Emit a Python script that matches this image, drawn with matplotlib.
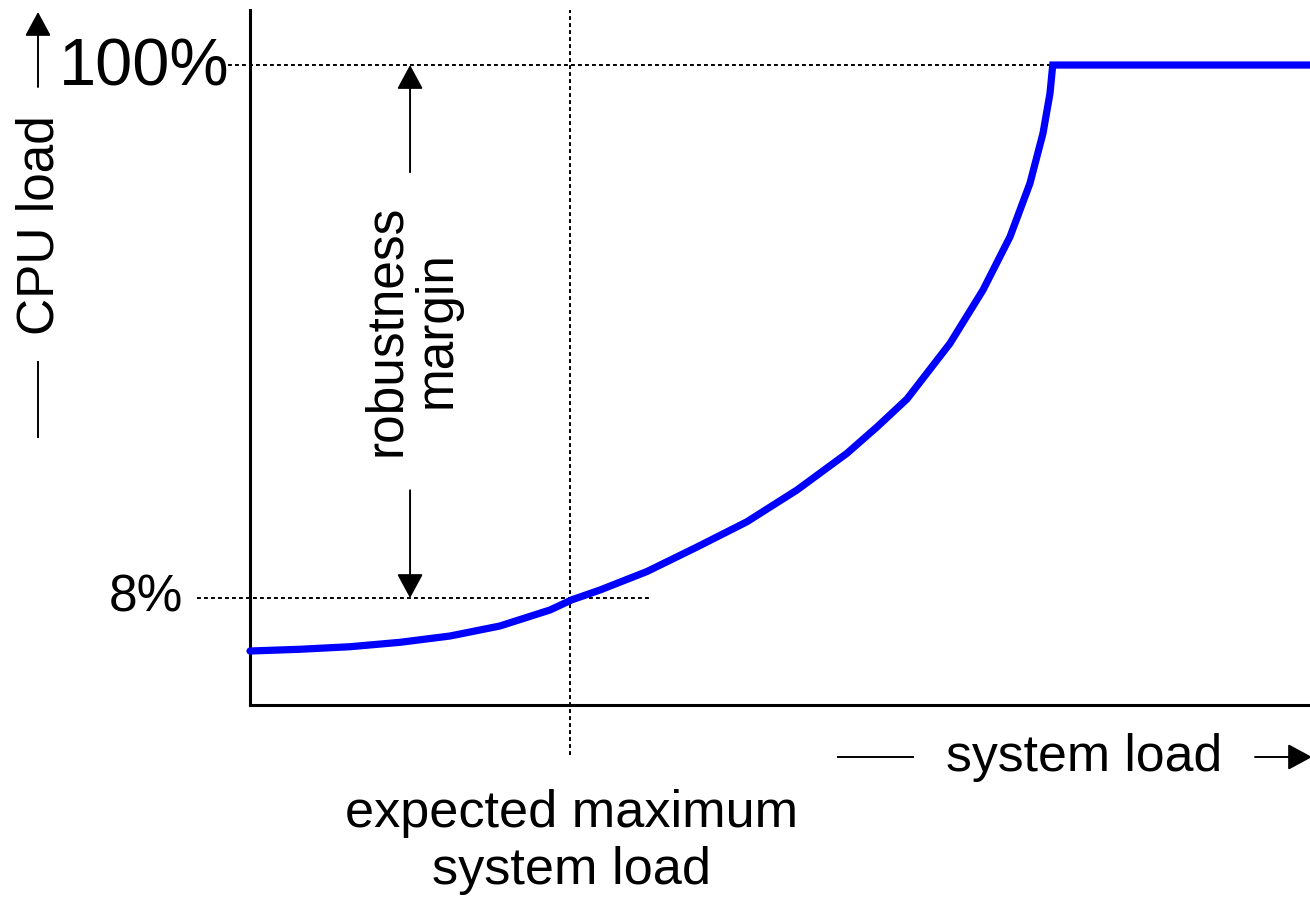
import matplotlib.pyplot as plt

# system load (arbitrary units, 0..100) vs CPU load (%)
load = [0, 4.72, 9.43, 14.15, 18.87, 23.58, 28.3, 30.38, 33.02, 37.45, 42.17, 46.89,
        51.6, 56.32, 59.15, 61.98, 66.04, 69.15, 71.7, 73.58, 74.81, 75.47, 75.73, 100]
cpu = [-1.15, -0.85, -0.41, 0.35, 1.44, 3.17, 5.93, 7.7, 9.38, 12.57, 16.8, 21.17,
       26.64, 32.98, 37.52, 42.35, 51.96, 61.16, 70.36, 79.58, 88.21, 95.11, 100, 100]

expected_load = 30.2
cpu_expected = 8
cpu_max = 100

plt.rcParams['font.family'] = ['Liberation Sans', 'DejaVu Sans']

W, H = 1310, 902
fig = plt.figure(figsize=(W / 100, H / 100), dpi=100)
ax = fig.add_axes([250 / W, 197 / H, 1060 / W, 695 / H])


def fp(px, py):
    # figure pixel (top-left origin) -> figure fraction
    return (px / W, 1 - py / H)


ax.plot(load, cpu, color='#0000ff', lw=5.2, solid_capstyle='round',
        solid_joinstyle='miter', zorder=5, clip_on=False)

dot = dict(color='k', lw=1.4, dashes=(2.0, 1.6), clip_on=False, zorder=3)
ax.plot([-2.1, load[-2]], [cpu_max, cpu_max], **dot)
ax.plot([-5, 37.7], [cpu_expected, cpu_expected], **dot)
ax.plot([expected_load, expected_load], [-19.1, 109.5], **dot)

ax.set_xlim(0, 100)
ax.set_ylim(-10.47, 109.5)
ax.set_xticks([])
ax.set_yticks([])
for s in ['top', 'right']:
    ax.spines[s].set_visible(False)
for s in ['left', 'bottom']:
    ax.spines[s].set_linewidth(2.2)
    ax.spines[s].set_capstyle('projecting')

arr = dict(arrowstyle='-|>,head_length=0.5,head_width=0.27', lw=1.4, color='k',
           mutation_scale=30, shrinkA=0, shrinkB=0)

# robustness margin arrows
ax.annotate('', xy=(15.1, cpu_max), xytext=(15.1, 81.5), arrowprops=arr,
            annotation_clip=False)
ax.annotate('', xy=(15.1, cpu_expected), xytext=(15.1, 26.6), arrowprops=arr,
            annotation_clip=False)
fig.text(*fp(412, 330), 'robustness\nmargin', rotation=90, ha='center', va='center',
         fontsize=37, linespacing=1.05)

fig.text(*fp(229, 68), '100%', ha='right', va='center', fontsize=48)
fig.text(*fp(183, 598), '8%', ha='right', va='center', fontsize=37)

# y-axis label with arrow
fig.text(*fp(40, 225), 'CPU load', rotation=90, ha='center', va='center', fontsize=37)
fig.add_artist(plt.Line2D(*zip(fp(38, 362), fp(38, 437)), color='k', lw=1.4))
ax.annotate('', xy=fp(38, 12), xytext=fp(38, 87), xycoords='figure fraction',
            textcoords='figure fraction', arrowprops=arr)

# x-axis label with arrow
fig.text(*fp(1084, 757), 'system load', ha='center', va='center', fontsize=37.3)
fig.add_artist(plt.Line2D(*zip(fp(838, 757), fp(913, 757)), color='k', lw=1.4))
ax.annotate('', xy=fp(1312, 757), xytext=fp(1255, 757), xycoords='figure fraction',
            textcoords='figure fraction', arrowprops=arr)

fig.text(*fp(572, 842), 'expected maximum\nsystem load', ha='center', va='center',
         fontsize=37.6, linespacing=1.2)

fig.savefig('out.png', dpi=100)
